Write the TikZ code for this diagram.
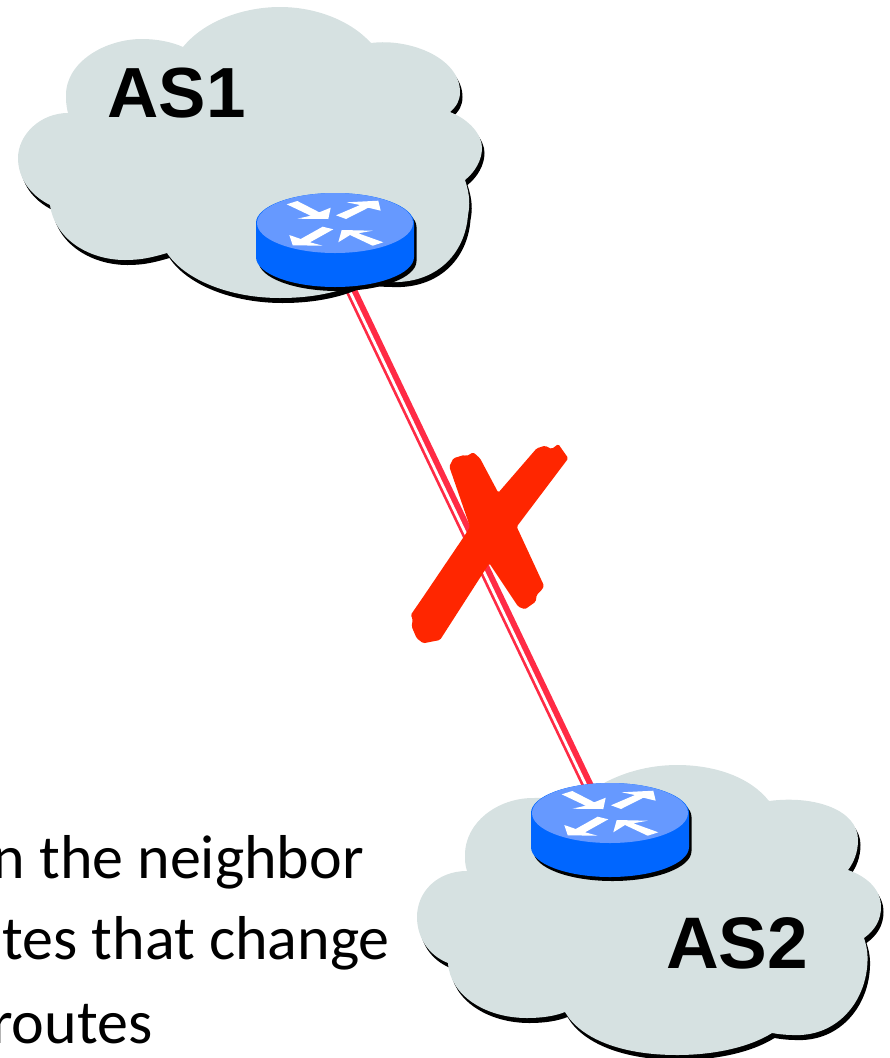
\documentclass[tikz,border=0pt]{standalone}
\usepackage{fontspec}
\setmainfont{Carlito}
\newfontfamily\asfont{Liberation Sans}
\definecolor{cloudgrey}{HTML}{D6E1E1}
\definecolor{routertop}{HTML}{6699FF}
\definecolor{routerside}{HTML}{0066FF}
\definecolor{linkred}{HTML}{FF2B45}
\definecolor{crossred}{HTML}{FF2600}

\begin{document}
\begin{tikzpicture}[x=1pt,y=-1pt,
  cloud node/.style={fill=cloudgrey,preaction={fill=black,transform canvas={xshift=2.5pt,yshift=-5pt}}},
  as label/.style={anchor=base west,inner sep=0pt,font=\asfont\bfseries\fontsize{#1}{#1}\selectfont},
  text line/.style={anchor=base east,inner sep=0pt,font=\fontsize{62}{62}\selectfont},
  router arrow/.style={fill=white},
  router node/.pic={
    \fill[routerside,preaction={fill=black,transform canvas={xshift=2.5pt,yshift=-4pt}}]
      (-79,34) arc[start angle=180,end angle=0,x radius=79,y radius=30]
      -- (79,0) arc[start angle=0,end angle=-180,x radius=79,y radius=30] -- cycle;
    \fill[routertop] (0,0) ellipse[x radius=78,y radius=30];
    \fill[router arrow] (-48.3,-18.7) -- (-37.7,-22) -- (-15.7,-10.7) -- (-4.3,-15.3) -- (-6.7,-4) -- (-37.7,-4.3) -- (-24.3,-7.3) -- cycle;
    \fill[router arrow] (1,-7.7) -- (11,-4) -- (33.3,-15.3) -- (45.7,-12.3) -- (43.3,-22.3) -- (11.7,-20.7) -- (25,-18) -- cycle;
    \fill[router arrow] (-1.7,6.3) -- (-12.3,3.7) -- (-34.3,16) -- (-45.7,12) -- (-42.3,22.3) -- (-12.3,22.7) -- (-25,19.3) -- cycle;
    \fill[router arrow] (48.3,19.3) -- (37.7,22.7) -- (15,12) -- (3.3,19.3) -- (6.7,7) -- (37.7,7.7) -- (23.3,10.3) -- cycle;
  }]

  \useasboundingbox (0,0) rectangle (890,1058);

  \coordinate (r1) at (335,223);
  \coordinate (r2) at (610,813);

  % link goes under everything else
  \path (r1) ++(12.7,60) coordinate (r1 port);
  \path (r2) ++(-21,-25) coordinate (r2 port);
  \draw[linkred,line width=11.5pt] (r1 port) -- (r2 port);
  \draw[white,line width=2.8pt] ([xshift=-1.8pt]r1 port) -- ([xshift=-1.8pt]r2 port);

  % AS1
  \path[cloud node] (183,47) .. controls (205,20) and (245,7) .. (280,7)
    .. controls (315,7) and (350,20) .. (371,43)
    .. controls (410,38) and (460,58) .. (460,92)
    .. controls (460,100) and (457,106) .. (450,112)
    .. controls (470,120) and (482,135) .. (482,148)
    .. controls (482,160) and (475,172) .. (465,180)
    .. controls (470,195) and (470,205) .. (468,215)
    .. controls (465,255) and (435,284) .. (390,282)
    .. controls (380,282) and (372,281) .. (365,280)
    .. controls (340,293) and (310,298) .. (280,298)
    .. controls (230,298) and (185,280) .. (167,253)
    .. controls (150,258) and (140,260) .. (125,260)
    .. controls (90,260) and (55,240) .. (50,205)
    .. controls (30,195) and (18,178) .. (18,158)
    .. controls (18,135) and (40,113) .. (68,113)
    .. controls (66,105) and (66,100) .. (66,95)
    .. controls (66,62) and (105,39) .. (142,39)
    .. controls (157,39) and (172,42) .. (183,47) -- cycle;

  % AS2
  \path[cloud node] (597,787) .. controls (620,773) and (648,765) .. (677,765)
    .. controls (715,765) and (750,777) .. (769,801)
    .. controls (815,795) and (858,810) .. (858,840)
    .. controls (858,852) and (854,862) .. (848,870)
    .. controls (868,877) and (881,890) .. (881,907)
    .. controls (881,920) and (875,930) .. (864,938)
    .. controls (868,950) and (868,958) .. (867,968)
    .. controls (863,1005) and (835,1037) .. (793,1035)
    .. controls (785,1035) and (778,1034) .. (772,1033)
    .. controls (748,1048) and (712,1055) .. (677,1055)
    .. controls (620,1055) and (580,1038) .. (565,1012)
    .. controls (555,1016) and (542,1018) .. (527,1018)
    .. controls (485,1018) and (450,995) .. (448,963)
    .. controls (428,955) and (417,937) .. (417,917)
    .. controls (417,892) and (437,871) .. (467,871)
    .. controls (465,865) and (465,860) .. (465,855)
    .. controls (465,822) and (498,798) .. (533,798)
    .. controls (555,798) and (578,795) .. (597,787) -- cycle;

  \pic at (r1) {router node};
  \pic at (r2) {router node};

  % the cross
  \fill[crossred,rounded corners=1.5pt] (449.3,466.7) -- (453.3,458.3) -- (464,455) -- (466.7,456)
    -- (473.3,452.3) -- (480,458.3) -- (498.3,492.7) -- (536.7,448.3) -- (545,445.7) -- (551.7,449)
    -- (558.3,444) -- (568.3,458.3) -- (516.7,526.7) -- (544,585.7) -- (541.7,590) -- (536.7,595)
    -- (535.7,601.7) -- (525,609.3) -- (518.3,606.7) -- (489.3,563.3) -- (440,640) -- (423.3,643.3)
    -- (416.7,638.3) -- (411.7,626.7) -- (412.7,619) -- (410.7,615) -- (423.3,596.7) -- (465,535)
    -- (470,526.7) -- cycle;

  \node[as label=71] (as1) at (107.5,117) {AS1};
  \node[as label=73] (as2) at (666,968) {AS2};

  \node[text line] (line1) at (364,878) {n the neighbor};
  \node[text line] (line2) at (390,959) {tes that change};
  \node[text line] (line3) at (152.5,1043) {routes};
\end{tikzpicture}
\end{document}
